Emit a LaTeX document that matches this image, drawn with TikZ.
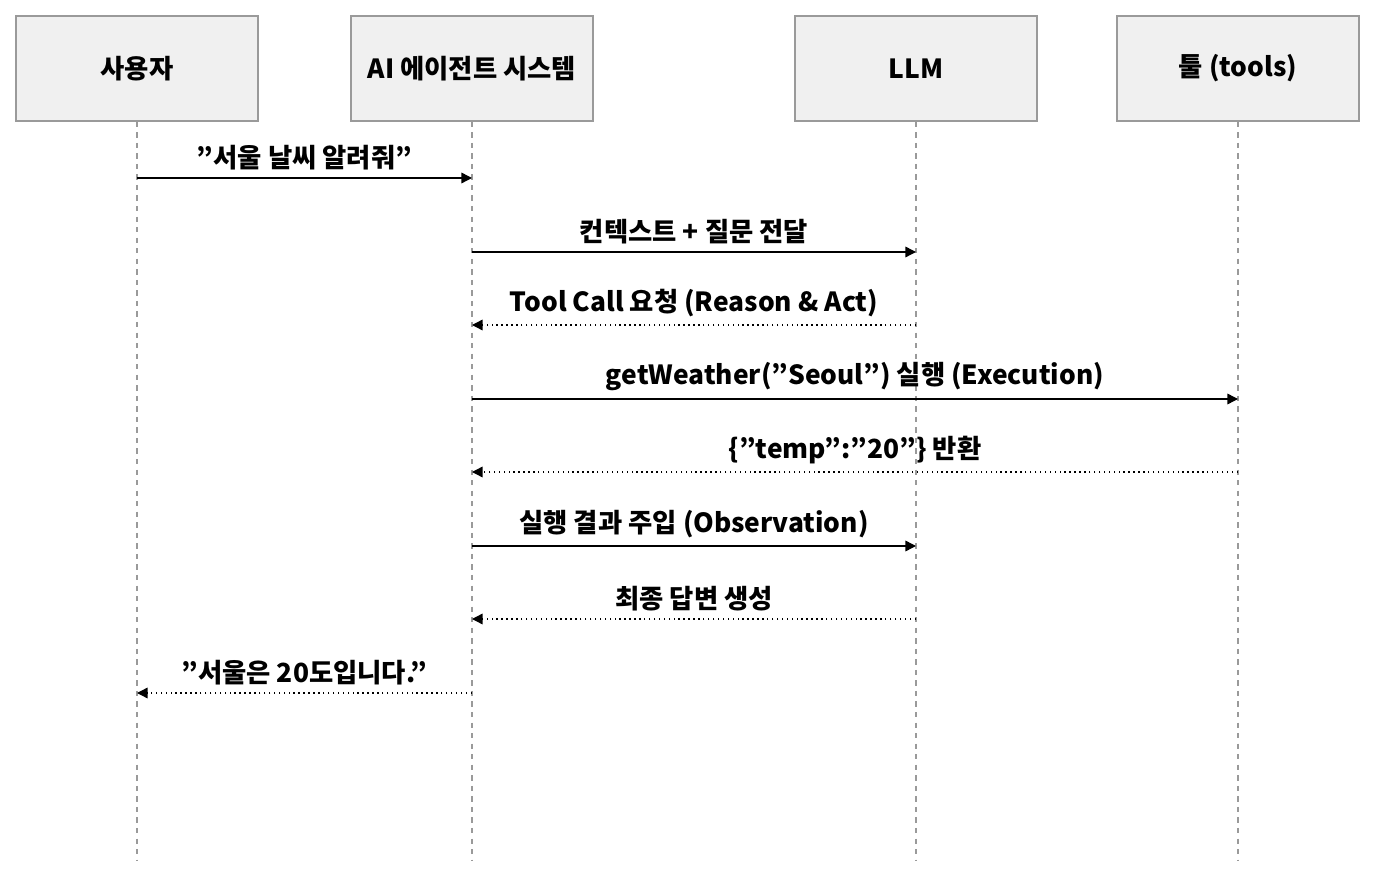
\documentclass[tikz,border=0pt]{standalone}
\usepackage{fontspec}
\setmainfont{Noto Sans CJK KR}
\usetikzlibrary{arrows.meta,positioning}
\definecolor{boxfill}{HTML}{F0F0F0}
\definecolor{boxline}{HTML}{9A9A9A}
\tikzset{
  actor/.style={draw=boxline,fill=boxfill,line width=0.8pt,minimum width=4.84cm,minimum height=2.1cm,font=\fontsize{15}{18}\selectfont\bfseries},
  life/.style={boxline,dashed,line width=0.6pt},
  call/.style={-{Triangle[length=6pt,width=6pt]},line width=0.8pt},
  reply/.style={call,dotted},
  msg/.style={above=1pt,font=\fontsize{15}{18}\selectfont\bfseries}
}
\begin{document}
\begin{tikzpicture}[x=0.02cm,y=-0.02cm]
  \useasboundingbox (0,0) rectangle (1377,878);
  % participants
  \node[actor] (user) at (137,68.5) {사용자};
  \node[actor] (agent) at (472,68.5) {AI 에이전트 시스템};
  \node[actor] (llm) at (916,68.5) {LLM};
  \node[actor] (tool) at (1238,68.5) {툴 (tools)};
  % lifelines
  \foreach \p in {user,agent,llm,tool}{
    \coordinate (\p-end) at (\p.south |- 0,860);
    \draw[life] (\p.south) -- (\p-end);
  }
  % messages
  \foreach \y/\from/\to/\sty/\txt in {
    178/user/agent/call/{"서울 날씨 알려줘"},
    252/agent/llm/call/{컨텍스트 + 질문 전달},
    325/llm/agent/reply/{Tool Call 요청 (Reason \& Act)},
    399/agent/tool/call/{getWeather("Seoul") 실행 (Execution)},
    472/tool/agent/reply/{\{"temp":"20"\} 반환},
    546/agent/llm/call/{실행 결과 주입 (Observation)},
    619/llm/agent/reply/{최종 답변 생성},
    693/agent/user/reply/{"서울은 20도입니다."}}{
    \coordinate (s) at (\from.south |- 0,\y);
    \coordinate (t) at (\to.south |- 0,\y);
    \draw[\sty] (s) -- node[msg] {\txt} (t);
  }
\end{tikzpicture}
\end{document}
